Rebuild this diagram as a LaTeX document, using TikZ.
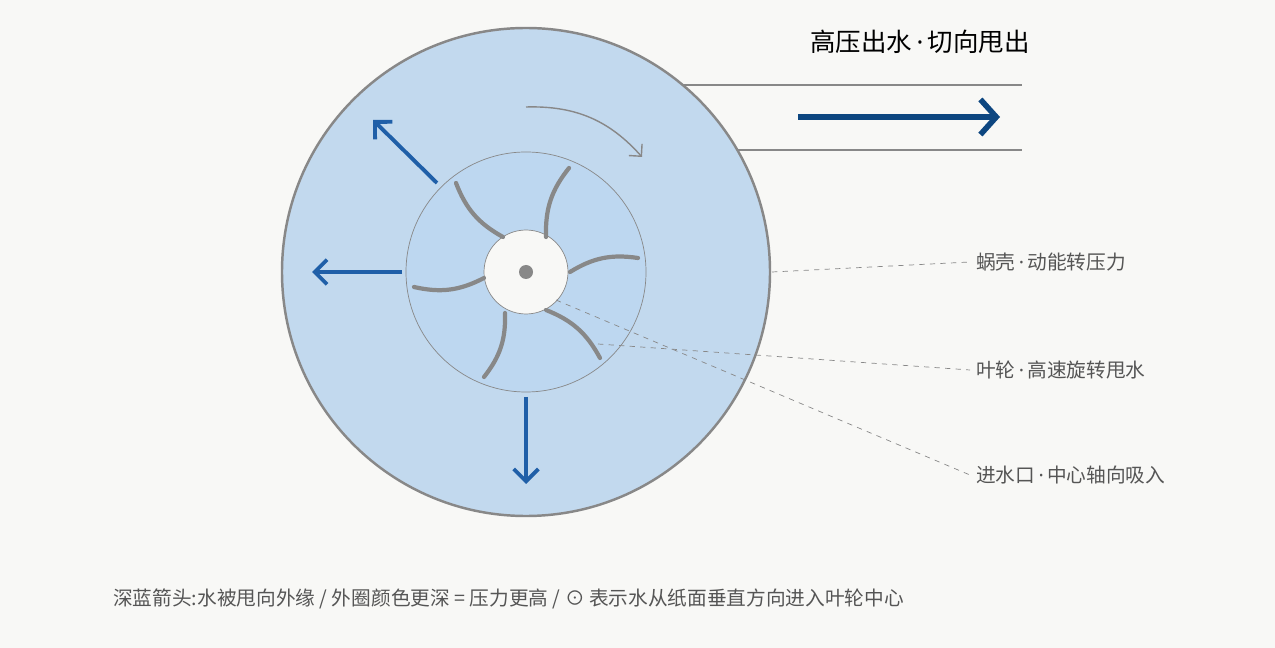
\documentclass[tikz,border=0pt]{standalone}
\usepackage{fontspec}
\setmainfont{Noto Sans CJK SC}
\newfontfamily\latin{Noto Sans}
\newcommand{\sepdot}{{\latin\,·\,}}
\usetikzlibrary{arrows.meta}
\definecolor{bgc}{HTML}{F8F8F6}
\definecolor{shell}{HTML}{C2D9EE}
\definecolor{wheel}{HTML}{BDD7F0}
\definecolor{grayl}{HTML}{888888}
\definecolor{flowb}{HTML}{1F5FA8}
\definecolor{darkb}{HTML}{0D4680}
\definecolor{txt}{HTML}{555555}
\begin{document}
\begin{tikzpicture}
[x=0.02cm, y=-0.02cm,
   flow/.style={flowb, line width=2.2pt, arrows={-Straight Barb[length=7pt, width=14pt]}},
   blade/.style={grayl, line width=2.4pt, line cap=round},
   lead/.style={grayl, dashed, thin},
   lbl/.style={anchor=west, font=\fontsize{11.2}{14}\selectfont, text=txt}]
\fill[bgc] (0,0) rectangle (1275,648);
\useasboundingbox (0,0) rectangle (1275,648);
% casing and outlet
\draw[grayl, line width=1.4pt] (680,85) -- (1022,85);
\draw[grayl, line width=1.4pt] (738,150) -- (1022,150);
\node[circle, draw=grayl, line width=1.4pt, fill=shell, minimum size=488*0.02cm, inner sep=0] (shell) at (526,272) {};
\node[circle, draw=grayl, thin, fill=wheel, minimum size=240*0.02cm, inner sep=0] (wheel) at (526,272) {};
\node[circle, draw=grayl, thin, fill=bgc, minimum size=84*0.02cm, inner sep=0] (hub) at (526,272) {};
\node[circle, fill=grayl, minimum size=14*0.02cm, inner sep=0] (axis) at (526,272) {};
% blades
\draw[blade] (456,183) to[bend right=20] (503,237);
\draw[blade] (569,168) to[bend right=20] (546,237);
\draw[blade] (638,258) to[bend right=20] (570,272);
\draw[blade] (600,358) to[bend right=20] (546,310);
\draw[blade] (484,377) to[bend right=20] (505,313);
\draw[blade] (414,287) to[bend right=20] (484,278);
% rotation
\coordinate (r1) at (526,107);
\coordinate (r2) at (642,157);
\draw[grayl, thick, arrows={-Straight Barb[length=5pt, width=10pt]}] (r1) to[bend left=25] (r2);
% flow arrows
\coordinate (f1a) at (437,183); \coordinate (f1b) at (373,120);
\coordinate (f2a) at (402,272); \coordinate (f2b) at (312,272);
\coordinate (f3a) at (526,397); \coordinate (f3b) at (526,484);
\draw[flow] (f1a) -- (f1b);
\draw[flow] (f2a) -- (f2b);
\draw[flow] (f3a) -- (f3b);
\coordinate (o1) at (798,117); \coordinate (o2) at (1000,117);
\draw[darkb, line width=3.2pt, arrows={-Straight Barb[length=9pt, width=20pt]}] (o1) -- (o2);
\node (title) at (920,42) {\fontsize{14.5}{18}\selectfont 高压出水\sepdot 切向甩出};
% labels
\node[lbl] (Lshell) at (970,262) {蜗壳\sepdot 动能转压力};
\node[lbl] (Lwheel) at (970,370) {叶轮\sepdot 高速旋转甩水};
\node[lbl] (Linlet) at (970,475) {进水口\sepdot 中心轴向吸入};
\coordinate (p1) at (772,272);
\coordinate (p2) at (598,344);
\coordinate (p3) at (556,300);
\draw[lead] (p1) -- (Lshell.west);
\draw[lead] (p2) -- (Lwheel.west);
\draw[lead] (p3) -- (Linlet.west);
\node[lbl] (note) at (107,599) {深蓝箭头:水被甩向外缘 / 外圈颜色更深 = 压力更高 / ⊙ 表示水从纸面垂直方向进入叶轮中心};
\end{tikzpicture}
\end{document}
